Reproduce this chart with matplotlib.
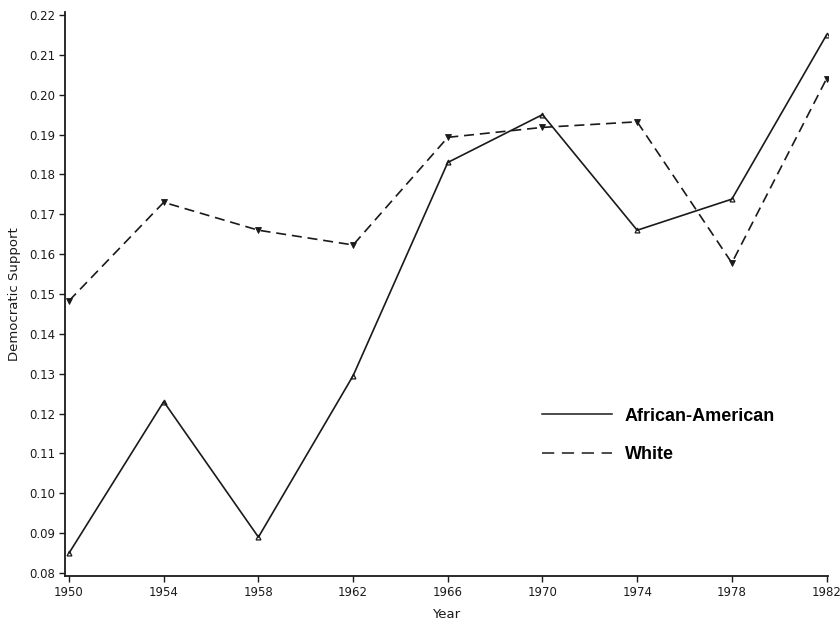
import matplotlib
matplotlib.use("Agg")
import matplotlib.pyplot as plt
from matplotlib.lines import Line2D

years = [1950, 1954, 1958, 1962, 1966, 1970, 1974, 1978, 1982]
african_american = [0.085, 0.123, 0.089, 0.1295, 0.183, 0.195, 0.166, 0.1738, 0.215]
white = [0.1483, 0.173, 0.166, 0.1623, 0.1893, 0.1918, 0.1932, 0.1578, 0.204]
y_ticks = [0.08, 0.09, 0.10, 0.11, 0.12, 0.13, 0.14, 0.15, 0.16, 0.17, 0.18, 0.19, 0.20, 0.21, 0.22]

plt.rcParams['font.family'] = ['DejaVu Sans']

fig = plt.figure(figsize=(8.4, 6.25), dpi=100)
ax = fig.add_axes([0.0774, 0.0784, 0.908, 0.9024])

ink = '#1a1a1a'
ax.plot(years, african_american, color=ink, lw=1.2, marker='^', ms=3.5,
        mfc='none', mew=0.9)
ax.plot(years, white, color=ink, lw=1.2, dashes=(6, 3.5), marker='v', ms=4,
        mew=0.6)

ax.set_xlim(1949.83, 1982.05)
ax.set_ylim(0.07925, 0.22075)
ax.set_xticks(years)
ax.set_yticks(y_ticks)
ax.set_yticklabels([f"{v:.2f}" for v in y_ticks])

for side in ('top', 'right'):
    ax.spines[side].set_visible(False)
for side in ('left', 'bottom'):
    ax.spines[side].set_linewidth(1.3)
    ax.spines[side].set_color(ink)

ax.tick_params(axis='both', direction='out', length=4, width=1, colors=ink,
               labelsize=8.5, pad=3)
ax.set_xlabel('Year', fontsize=9.5, color=ink, labelpad=7)
ax.set_ylabel('Democratic Support', fontsize=9.5, color=ink, labelpad=6)

handles = [Line2D([], [], color=ink, lw=1.1),
           Line2D([], [], color=ink, lw=1.1, dashes=(8, 5))]
ax.legend(handles, ['African-American', 'White'], frameon=False,
          prop={'family': 'Liberation Sans', 'weight': 'bold', 'size': 13},
          handlelength=3.85, handletextpad=0.72, labelspacing=1.2,
          borderpad=0, loc='upper left', bbox_to_anchor=(0.626, 0.2985),
          borderaxespad=0)

fig.savefig('out.png', dpi=100, facecolor='white')
